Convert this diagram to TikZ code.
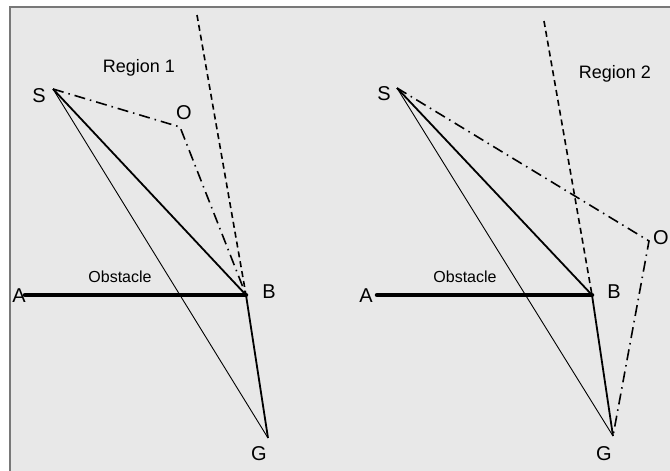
\documentclass[tikz,border=0pt]{standalone}
\usepackage{fontspec}
\setmainfont{Liberation Sans}
\usetikzlibrary{positioning}
\definecolor{panelgray}{RGB}{232,232,232}
\definecolor{framegray}{RGB}{120,120,120}

\begin{document}
\begin{tikzpicture}[
    x=1pt, y=-1pt,
    font=\fontsize{20}{23}\selectfont,
    lbl/.style={inner sep=0pt},
    region/.style={inner sep=0pt, font=\fontsize{18}{21}\selectfont},
    obst/.style={inner sep=0pt, font=\fontsize{16}{19}\selectfont},
    wall/.style={line width=4.5pt, line cap=round},
    route/.style={line width=1.8pt},
    direct/.style={line width=0.9pt},
    ext/.style={line width=1.6pt, dash pattern=on 6pt off 4pt},
    detour/.style={line width=1.6pt, dash pattern=on 11pt off 5pt on 1.5pt off 5pt}
  ]

    \useasboundingbox (0,0) rectangle (670,471);
    \clip (0,0) rectangle (670,471);

    % --- Background ---
    \fill[panelgray] (10,7) rectangle (670,471);
    \draw[framegray, line width=1.2pt] (10,471) -- (10,7) -- (670,7);

    % --- Region 1 ---
    \coordinate (S1) at (53,89);
    \coordinate (O1) at (180,127);
    \coordinate (A1) at (25,295);
    \coordinate (B1) at (246,295);
    \coordinate (G1) at (268,438);
    \coordinate (D1) at (197,15);

    \node[region] (reg1) at (139,68) {Region 1};
    \node[lbl] (s1lbl) at (39,96) {S};
    \node[lbl] (o1lbl) at (184,113) {O};
    \node[lbl] (a1lbl) at (19,296) {A};
    \node[lbl] (b1lbl) at (269,292) {B};
    \node[lbl] (g1lbl) at (259,454) {G};
    \node[obst] (obst1) at (120,277) {Obstacle};

    \draw[wall] (A1) -- (B1);
    \draw[ext] (D1) -- (B1);
    \draw[detour] (S1) -- (O1) -- (B1);
    \draw[route] (S1) -- (B1) -- (G1);
    \draw[direct] (S1) -- (G1);

    % --- Region 2 ---
    \coordinate (S2) at (397,88);
    \coordinate (O2) at (649,241);
    \coordinate (A2) at (377,295);
    \coordinate (B2) at (592,295);
    \coordinate (G2) at (613,436);
    \coordinate (D2) at (544,21);

    \node[region] (reg2) at (615,74) {Region 2};
    \node[lbl] (s2lbl) at (384,94) {S};
    \node[lbl] (o2lbl) at (661,238) {O};
    \node[lbl] (a2lbl) at (366,296) {A};
    \node[lbl] (b2lbl) at (614,292) {B};
    \node[lbl] (g2lbl) at (604,454) {G};
    \node[obst] (obst2) at (465,277) {Obstacle};

    \draw[wall] (A2) -- (B2);
    \draw[ext] (D2) -- (B2);
    \draw[detour] (S2) -- (O2) -- (G2);
    \draw[route] (S2) -- (B2) -- (G2);
    \draw[direct] (S2) -- (G2);

\end{tikzpicture}
\end{document}
